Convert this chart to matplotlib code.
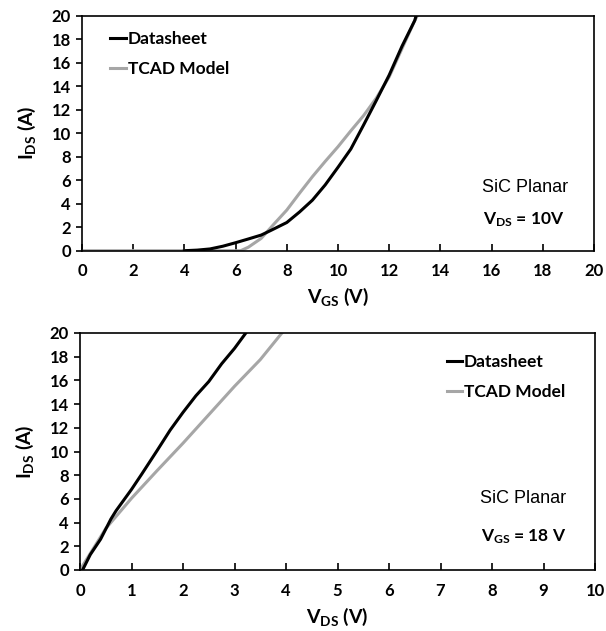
import numpy as np
import matplotlib
matplotlib.use("Agg")
import matplotlib.pyplot as plt

plt.rcParams['font.family'] = ['Lato', 'DejaVu Sans']
plt.rcParams['font.weight'] = 'bold'
plt.rcParams['axes.labelweight'] = 'bold'
plt.rcParams['mathtext.fontset'] = 'custom'
plt.rcParams['mathtext.rm'] = 'Lato:bold'
plt.rcParams['mathtext.it'] = 'Lato:bold'
plt.rcParams['mathtext.bf'] = 'Lato:bold'

# transfer curve, V_DS = 10 V
vgs_ds = [4.0, 4.5, 5.0, 5.5, 6.0, 6.5, 7.0, 7.4, 8.0, 8.5, 9.0, 9.5, 10.0, 10.5, 11.0, 11.5, 12.0, 12.5, 13.0, 13.05]
ids_ds = [0.0, 0.05, 0.15, 0.38, 0.68, 1.0, 1.33, 1.75, 2.4, 3.3, 4.3, 5.6, 7.1, 8.65, 10.7, 12.8, 14.95, 17.4, 19.6, 20.0]
vgs_tcad = [0.0, 4.0, 6.2, 6.5, 7.0, 7.5, 8.0, 8.5, 9.0, 9.5, 10.0, 10.5, 11.0, 11.5, 12.0, 12.5, 13.0, 13.1]
ids_tcad = [0.0, 0.0, 0.0, 0.3, 1.05, 2.27, 3.46, 4.9, 6.3, 7.6, 8.85, 10.2, 11.5, 13.0, 14.8, 17.2, 19.6, 20.0]

# output curve, V_GS = 18 V
vds_ds = [0.05, 0.2, 0.4, 0.6, 0.7, 0.8, 1.0, 1.2, 1.5, 1.75, 2.0, 2.25, 2.5, 2.75, 3.0, 3.22]
ids_ds2 = [0.0, 1.3, 2.6, 4.3, 5.0, 5.6, 6.8, 8.1, 10.1, 11.8, 13.3, 14.7, 15.9, 17.4, 18.7, 20.0]
vds_tcad = [0.0, 0.2, 0.5, 1.0, 1.5, 2.0, 2.5, 3.0, 3.5, 3.92]
ids_tcad2 = [0.0, 1.4, 3.5, 6.05, 8.4, 10.7, 13.1, 15.5, 17.75, 20.0]

black = '#000000'
gray = '#a6a6a6'

fig = plt.figure(figsize=(6.06, 6.31), dpi=100)
ax1 = fig.add_axes([82/606, 1-250.7/631, 512/606, 235/631])
ax2 = fig.add_axes([80/606, 1-570/631, 515/606, 237/631])


def style(ax, xmax, xstep):
    ax.set_xlim(0, xmax)
    ax.set_ylim(0, 20)
    ax.set_xticks(np.arange(0, xmax + 0.1, xstep))
    ax.set_yticks(np.arange(0, 21, 2))
    ax.tick_params(axis='x', direction='in', length=5, width=1.2, labelsize=12, pad=9)
    ax.tick_params(axis='y', direction='out', length=4, width=1.2, labelsize=12, pad=4)
    for t in ax.get_xticklabels() + ax.get_yticklabels():
        t.set_fontweight('bold')
    for s in ax.spines.values():
        s.set_linewidth(1.2)
    ax.set_ylabel(r'I$_{\mathregular{DS}}$ (A)', fontsize=14, fontweight='bold', labelpad=10)


ax1.plot(vgs_tcad, ids_tcad, color=gray, lw=2.2, label='TCAD Model', zorder=2)
ax1.plot(vgs_ds, ids_ds, color=black, lw=2.2, label='Datasheet', zorder=3)
style(ax1, 20, 2)
ax1.set_xlabel(r'V$_{\mathregular{GS}}$ (V)', fontsize=14, fontweight='bold', labelpad=5)
h, l = ax1.get_legend_handles_labels()
ax1.legend(h[::-1], l[::-1], loc='upper left', bbox_to_anchor=(0.055, 0.934), frameon=False,
           handlelength=0.9, handletextpad=0.1, labelspacing=0.8, borderpad=0,
           borderaxespad=0, prop={'size': 12.5, 'weight': 'bold'})
ax1.text(17.3, 5.4, 'SiC Planar', fontsize=13, fontweight='normal',
         family=['Liberation Sans'], ha='center', va='center')
ax1.text(18.85, 2.6, r'V$_{\mathregular{DS}}$ = 10V', fontsize=12.5, fontweight='bold',
         ha='right', va='center')

ax2.plot(vds_tcad, ids_tcad2, color=gray, lw=2.2, label='TCAD Model', zorder=2)
ax2.plot(vds_ds, ids_ds2, color=black, lw=2.2, label='Datasheet', zorder=3)
style(ax2, 10, 1)
ax2.set_xlabel(r'V$_{\mathregular{DS}}$ (V)', fontsize=14, fontweight='bold', labelpad=5)
h, l = ax2.get_legend_handles_labels()
ax2.legend(h[::-1], l[::-1], loc='upper left', bbox_to_anchor=(0.712, 0.913), frameon=False,
           handlelength=0.9, handletextpad=0.1, labelspacing=0.85, borderpad=0,
           borderaxespad=0, prop={'size': 12.5, 'weight': 'bold'})
ax2.text(8.6, 6.0, 'SiC Planar', fontsize=13, fontweight='normal',
         family=['Liberation Sans'], ha='center', va='center')
ax2.text(9.45, 2.8, r'V$_{\mathregular{GS}}$ = 18 V', fontsize=12.5, fontweight='bold',
         ha='right', va='center')

fig.savefig('out.png', dpi=100)
